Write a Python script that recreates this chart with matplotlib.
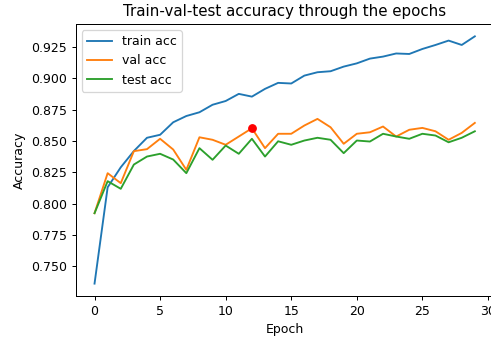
import matplotlib
matplotlib.use('Agg')
import matplotlib.pyplot as plt
import numpy as np

# accuracy per epoch
epochs = np.arange(30)
train_acc = [0.736, 0.813, 0.829, 0.842, 0.8526, 0.855, 0.865, 0.870, 0.873, 0.879,
             0.882, 0.8877, 0.8855, 0.8917, 0.8965, 0.896, 0.9023, 0.905, 0.9058, 0.9095,
             0.9121, 0.9159, 0.9175, 0.920, 0.9196, 0.9236, 0.9268, 0.9303, 0.9268, 0.9337]
val_acc = [0.7923, 0.8243, 0.8163, 0.8419, 0.8435, 0.8518, 0.8432, 0.827, 0.853, 0.851,
           0.847, 0.8536, 0.8602, 0.8443, 0.8558, 0.8558, 0.8624, 0.8677, 0.861, 0.8478,
           0.8558, 0.857, 0.8616, 0.8536, 0.859, 0.8605, 0.8578, 0.851, 0.8565, 0.8645]
test_acc = [0.7923, 0.8179, 0.8118, 0.8312, 0.8376, 0.8398, 0.8352, 0.8243, 0.8443, 0.835,
            0.8464, 0.8398, 0.8518, 0.8376, 0.8498, 0.847, 0.8504, 0.8526, 0.851, 0.8403,
            0.8504, 0.8496, 0.8558, 0.8536, 0.8518, 0.8558, 0.8544, 0.849, 0.8526, 0.8578]
best_epoch = 12

dpi = 90
fig = plt.figure(figsize=(491 / dpi, 341 / dpi), dpi=dpi)
ax = fig.add_axes([0.1538, 0.132, 0.852, 0.7977])

ax.plot(epochs, train_acc, label='train acc')
ax.plot(epochs, val_acc, label='val acc')
ax.plot(epochs, test_acc, label='test acc')
ax.plot(best_epoch, val_acc[best_epoch], 'ro')

ax.set_title('Train-val-test accuracy through the epochs')
ax.set_xlabel('Epoch')
ax.set_ylabel('Accuracy')
ax.legend(loc='upper left')

fig.savefig('out.png', dpi=dpi)
